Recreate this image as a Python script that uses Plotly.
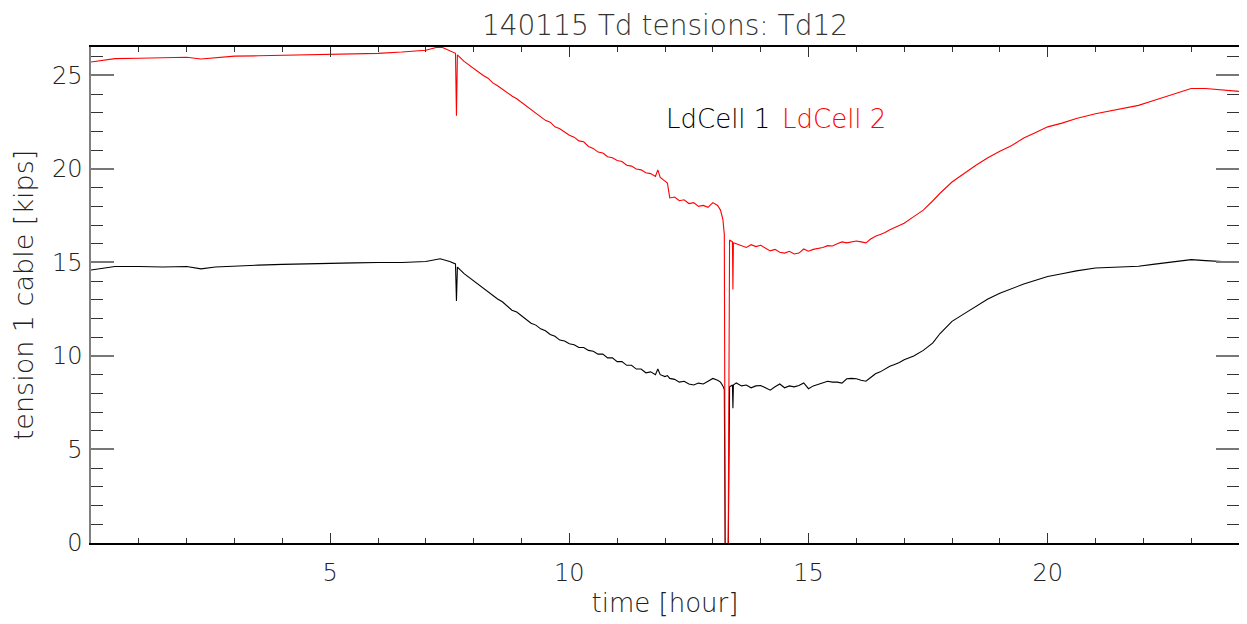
import plotly.graph_objects as go

title_text = "140115 Td tensions: Td12"
series_names = ["LdCell 1", "LdCell 2"]
series_colors = ["#000000", "#ff0000"]

hours = [
    0.0, 0.5, 1.0, 1.5, 2.0, 2.3, 2.6, 3.0, 3.5, 4.0, 4.5, 5.0, 5.5, 6.0, 6.5, 7.0, 7.3, 7.5,
    7.62, 7.64, 7.66,
    7.8, 7.9, 8.0, 8.1, 8.2, 8.3, 8.4, 8.5, 8.6, 8.7, 8.8, 8.9,
    9.0, 9.1, 9.2, 9.3, 9.4, 9.5, 9.6, 9.7, 9.8, 9.9,
    10.0, 10.1, 10.2, 10.3, 10.4, 10.5, 10.6, 10.7, 10.8, 10.9,
    11.0, 11.1, 11.2, 11.3, 11.4, 11.5, 11.6, 11.7, 11.8, 11.85, 11.9,
    12.0, 12.05, 12.1, 12.2, 12.3, 12.4, 12.5, 12.6, 12.7, 12.8, 12.9,
    13.0, 13.1, 13.16, 13.21, 13.24, 13.26, 13.32, 13.35, 13.39, 13.41, 13.42, 13.43, 13.49,
    13.6, 13.7, 13.8, 13.9, 14.0, 14.1, 14.2, 14.3, 14.4, 14.5, 14.6, 14.7, 14.8, 14.9,
    15.0, 15.1, 15.2, 15.3, 15.4, 15.5, 15.6, 15.7, 15.8, 15.9,
    16.0, 16.1, 16.2, 16.3, 16.4, 16.5, 16.6, 16.7, 16.8, 16.9, 17.0,
    17.2, 17.4, 17.6, 17.75, 18.0, 18.25, 18.5, 18.75, 19.0, 19.25, 19.5, 19.75,
    20.0, 20.3, 20.6, 21.0, 21.5, 21.9, 22.2, 22.5, 22.8, 23.0, 23.3, 23.6, 24.0,
]

ldcell1 = [
    14.6, 14.78, 14.78, 14.76, 14.78, 14.66, 14.76, 14.82, 14.86, 14.9, 14.94, 14.98, 14.98, 15.0, 15.0, 15.05, 15.2, 15.05,
    14.92, 12.94, 14.75,
    14.4, 14.2, 14.05, 13.85, 13.65, 13.45, 13.25, 13.05, 12.9, 12.7, 12.45, 12.35,
    12.15, 12.0, 11.75, 11.65, 11.45, 11.35, 11.15, 11.05, 10.85, 10.8,
    10.65, 10.6, 10.45, 10.45, 10.3, 10.25, 10.1, 10.1, 9.9, 9.9,
    9.7, 9.7, 9.5, 9.5, 9.3, 9.3, 9.1, 9.15, 9.0, 9.3, 9.0,
    8.9, 8.95, 8.8, 8.75, 8.6, 8.65, 8.5, 8.45, 8.55, 8.5, 8.65,
    8.8, 8.7, 8.6, 8.4, 8.2, -1.0, -1.0, 8.35, 8.4, 8.45, 7.2, 8.45, 8.56,
    8.4, 8.45, 8.3, 8.4, 8.42, 8.3, 8.17, 8.35, 8.5, 8.3, 8.4, 8.35, 8.42, 8.56,
    8.25, 8.4, 8.47, 8.55, 8.65, 8.6, 8.6, 8.55, 8.78, 8.8,
    8.78, 8.7, 8.65, 8.85, 9.05, 9.15, 9.3, 9.45, 9.55, 9.65, 9.8,
    10.0, 10.3, 10.7, 11.2, 11.85, 12.25, 12.65, 13.05, 13.35, 13.6, 13.85, 14.05,
    14.25, 14.4, 14.55, 14.7, 14.75, 14.8, 14.9, 15.0, 15.1, 15.15, 15.1, 15.05, 15.0,
]

ldcell2 = [
    25.72, 25.9, 25.92, 25.93, 25.97, 25.88, 25.96, 26.03, 26.05, 26.08, 26.1, 26.12, 26.14, 26.18, 26.25, 26.35, 26.55, 26.32,
    26.18, 22.85, 26.1,
    25.75, 25.55, 25.35, 25.2, 25.0, 24.85, 24.6, 24.45, 24.25, 24.1, 23.9, 23.75,
    23.55, 23.4, 23.15, 23.0, 22.8, 22.6, 22.5, 22.25, 22.15, 21.95,
    21.8, 21.7, 21.5, 21.45, 21.2, 21.1, 20.9, 20.85, 20.65, 20.6,
    20.45, 20.4, 20.2, 20.15, 20.0, 19.95, 19.8, 19.75, 19.6, 19.95, 19.55,
    19.35, 19.25, 18.45, 18.5, 18.3, 18.35, 18.15, 18.2, 18.0, 18.05, 17.95,
    18.2, 18.05, 17.8, 17.3, 16.5, -1.0, -1.0, 16.2, 16.15, 16.1, 13.55, 16.05, 16.0,
    15.9, 15.8, 15.95, 15.85, 15.92, 15.75, 15.62, 15.7, 15.55, 15.5, 15.6, 15.45, 15.5, 15.72,
    15.6, 15.7, 15.75, 15.8, 15.9, 15.88, 16.0, 16.1, 16.05, 16.12,
    16.15, 16.1, 16.05, 16.25, 16.4, 16.5, 16.6, 16.75, 16.88, 17.0, 17.1,
    17.45, 17.8, 18.3, 18.7, 19.3, 19.75, 20.2, 20.6, 20.95, 21.25, 21.65, 21.95,
    22.25, 22.45, 22.7, 22.95, 23.2, 23.4, 23.65, 23.9, 24.15, 24.3, 24.3, 24.25, 24.15,
]

x_range = [0, 24]
y_range = [0, 26.52]

font_family = "DejaVu Sans, Liberation Sans, sans-serif"
text_color = "#222222"
light = 200

fig = go.Figure()
for name, vals, col in zip(series_names, [ldcell1, ldcell2], series_colors):
    fig.add_trace(go.Scatter(x=hours, y=vals, mode="lines", name=name,
                             line=dict(color=col, width=1.1), showlegend=False))

# page body adds an 8px offset, so the figure is 8px smaller and margins shifted
fig.update_layout(
    width=1239, height=616,
    margin=dict(l=83, r=8, t=39, b=81, autoexpand=False),
    paper_bgcolor="white", plot_bgcolor="white",
    font=dict(family=font_family, size=22, color=text_color, weight=light),
    title=dict(text=title_text, x=0.5, xref="paper", xanchor="center",
               y=0.9724, yref="container", yanchor="middle", automargin=False,
               font=dict(size=28, color="#333333", weight=light)),
)

fig.update_xaxes(
    range=x_range, showgrid=False, zeroline=False, automargin=False,
    showline=True, linecolor="#000000", linewidth=1.5, mirror="ticks",
    ticks="inside", tickcolor="#333333", ticklen=10, tickwidth=1,
    tick0=0, dtick=5, tickvals=[5, 10, 15, 20],
    minor=dict(ticks="inside", dtick=1, tick0=0, ticklen=5, tickcolor="#333333", tickwidth=1),
    ticklabelstandoff=7,
    tickfont=dict(size=24, color=text_color, weight=light),
    title=dict(text="time [hour]", font=dict(size=26, color=text_color, weight=light), standoff=8),
)

fig.update_yaxes(
    range=y_range, showgrid=False, zeroline=False, automargin=False,
    showline=True, linecolor="#808080", linewidth=1.5, mirror="ticks",
    ticks="inside", tickcolor="#777777", ticklen=23, tickwidth=1.5,
    tick0=0, dtick=5,
    minor=dict(ticks="inside", dtick=1, tick0=0, ticklen=12, tickcolor="#333333", tickwidth=1),
    ticklabelstandoff=2,
    tickfont=dict(size=24, color=text_color, weight=light),
    title=dict(text="tension 1 cable [kips]", font=dict(size=27, color=text_color, weight=light), standoff=16),
)

fig.add_annotation(text=series_names[0], xref="paper", yref="paper", x=0.5935, y=0.8544,
                   xanchor="right", yanchor="middle", showarrow=False,
                   font=dict(size=26, color=series_colors[0], weight=light))
fig.add_annotation(text=series_names[1], xref="paper", yref="paper", x=0.6005, y=0.8544,
                   xanchor="left", yanchor="middle", showarrow=False,
                   font=dict(size=26, color=series_colors[1], weight=light))

fig.write_html("out.html")
